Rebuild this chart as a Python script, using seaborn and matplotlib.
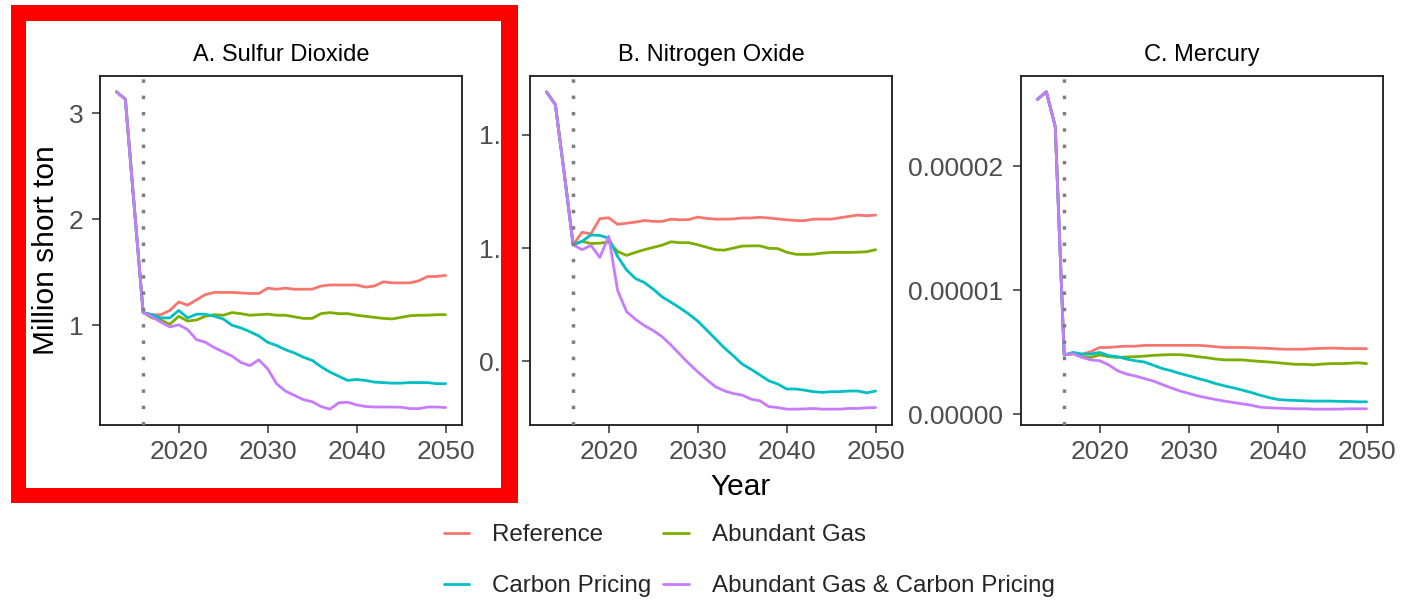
import numpy as np
import pandas as pd
import matplotlib
matplotlib.use("Agg")
import matplotlib.pyplot as plt
import seaborn as sns
from matplotlib.lines import Line2D
from matplotlib.patches import Rectangle

sns.set_theme(style="white")
plt.rcParams['font.family'] = ['Liberation Sans', 'DejaVu Sans']

years = list(range(2013, 2051))
scenarios = ["Reference", "Abundant Gas", "Carbon Pricing", "Abundant Gas & Carbon Pricing"]
colors = ["#F8766D", "#7CAE00", "#00BFC4", "#C77CFF"]
panel_titles = ["A. Sulfur Dioxide", "B. Nitrogen Oxide", "C. Mercury"]

# ---- Sulfur dioxide (million short ton) ----
so2_hist = [3.20, 3.13, 2.12]
so2_ref = [1.12, 1.10, 1.10, 1.14, 1.22, 1.19, 1.24, 1.29, 1.31, 1.31, 1.31, 1.305, 1.30, 1.30,
           1.35, 1.34, 1.35, 1.34, 1.34, 1.34, 1.37, 1.38, 1.38, 1.38, 1.38, 1.36, 1.37, 1.41,
           1.40, 1.40, 1.40, 1.42, 1.46, 1.46, 1.47]
so2_gas = [1.12, 1.07, 1.05, 1.01, 1.085, 1.04, 1.05, 1.085, 1.10, 1.095, 1.12, 1.11, 1.095, 1.10,
           1.105, 1.095, 1.095, 1.08, 1.065, 1.065, 1.11, 1.12, 1.11, 1.11, 1.095, 1.085, 1.075,
           1.065, 1.06, 1.075, 1.09, 1.095, 1.095, 1.10, 1.10]
so2_carbon = [1.12, 1.10, 1.07, 1.07, 1.14, 1.07, 1.105, 1.105, 1.085, 1.06, 1.00, 0.975, 0.94, 0.90,
              0.84, 0.81, 0.77, 0.74, 0.70, 0.67, 0.61, 0.56, 0.52, 0.48, 0.49, 0.48, 0.465, 0.46,
              0.455, 0.455, 0.46, 0.46, 0.46, 0.45, 0.45]
so2_both = [1.12, 1.08, 1.03, 0.985, 1.005, 0.96, 0.865, 0.84, 0.79, 0.75, 0.71, 0.65, 0.62, 0.675,
            0.59, 0.45, 0.38, 0.34, 0.30, 0.28, 0.235, 0.21, 0.27, 0.275, 0.25, 0.235, 0.23, 0.23,
            0.23, 0.228, 0.215, 0.215, 0.23, 0.23, 0.225]

# ---- Nitrogen oxide (million short ton) ----
nox_hist = [1.69, 1.634, 1.33]
nox_ref = [1.015, 1.07, 1.063, 1.13, 1.134, 1.105, 1.11, 1.115, 1.122, 1.118, 1.118, 1.128, 1.125,
           1.126, 1.137, 1.131, 1.128, 1.128, 1.129, 1.133, 1.133, 1.136, 1.133, 1.129, 1.125,
           1.122, 1.121, 1.128, 1.128, 1.128, 1.134, 1.14, 1.146, 1.143, 1.146]
nox_gas = [1.015, 1.03, 1.02, 1.022, 1.027, 0.985, 0.968, 0.981, 0.993, 1.003, 1.013, 1.028, 1.024,
           1.024, 1.015, 1.004, 0.993, 0.991, 1.0, 1.009, 1.01, 1.01, 0.999, 0.998, 0.982, 0.973,
           0.972, 0.973, 0.978, 0.981, 0.981, 0.981, 0.982, 0.984, 0.993]
nox_carbon = [1.015, 1.03, 1.058, 1.056, 1.044, 0.963, 0.904, 0.866, 0.848, 0.819, 0.785, 0.761,
              0.736, 0.709, 0.678, 0.639, 0.599, 0.559, 0.525, 0.488, 0.465, 0.440, 0.414, 0.40,
              0.378, 0.378, 0.373, 0.366, 0.363, 0.366, 0.366, 0.369, 0.369, 0.361, 0.369]
nox_both = [1.015, 0.993, 1.012, 0.959, 1.052, 0.813, 0.72, 0.686, 0.658, 0.636, 0.609, 0.572, 0.531,
            0.491, 0.454, 0.420, 0.388, 0.370, 0.358, 0.351, 0.333, 0.326, 0.30, 0.296, 0.289,
            0.289, 0.290, 0.292, 0.289, 0.289, 0.289, 0.292, 0.292, 0.295, 0.296]

# ---- Mercury (in 1e-5 million short ton) ----
hg_hist = [2.54, 2.60, 2.32]
hg_ref = [0.48, 0.49, 0.485, 0.506, 0.54, 0.54, 0.546, 0.55, 0.55, 0.557, 0.557, 0.557, 0.557, 0.557,
          0.557, 0.557, 0.553, 0.546, 0.54, 0.54, 0.54, 0.538, 0.535, 0.533, 0.528, 0.526, 0.526,
          0.526, 0.531, 0.533, 0.535, 0.533, 0.531, 0.531, 0.53]
hg_gas = [0.48, 0.49, 0.466, 0.46, 0.48, 0.466, 0.46, 0.463, 0.466, 0.47, 0.476, 0.48, 0.482, 0.482,
          0.476, 0.466, 0.458, 0.447, 0.44, 0.44, 0.44, 0.433, 0.428, 0.423, 0.417, 0.41, 0.404,
          0.404, 0.40, 0.406, 0.41, 0.41, 0.412, 0.417, 0.41]
hg_carbon = [0.48, 0.50, 0.487, 0.487, 0.50, 0.474, 0.466, 0.447, 0.433, 0.423, 0.398, 0.371, 0.353,
             0.331, 0.312, 0.291, 0.272, 0.25, 0.231, 0.215, 0.197, 0.178, 0.156, 0.137, 0.121,
             0.116, 0.113, 0.11, 0.108, 0.108, 0.108, 0.105, 0.105, 0.102, 0.102]
hg_both = [0.48, 0.49, 0.46, 0.44, 0.433, 0.40, 0.353, 0.326, 0.31, 0.29, 0.27, 0.242, 0.215, 0.19,
           0.17, 0.15, 0.135, 0.121, 0.108, 0.097, 0.086, 0.075, 0.059, 0.054, 0.051, 0.048, 0.046,
           0.046, 0.043, 0.043, 0.043, 0.043, 0.046, 0.046, 0.046]

hist_year = 2016

def build(hist, series, scale=1.0):
    rows = []
    for sc, vals in zip(scenarios, series):
        full = list(hist) + list(vals)
        for y, v in zip(years, full):
            rows.append({"Year": y, "Scenario": sc, "value": v * scale})
    return pd.DataFrame(rows)

data = [
    build(so2_hist, [so2_ref, so2_gas, so2_carbon, so2_both]),
    build(nox_hist, [nox_ref, nox_gas, nox_carbon, nox_both]),
    build(hg_hist, [hg_ref, hg_gas, hg_carbon, hg_both], 1e-5),
]

W, H = 1401, 601
fig = plt.figure(figsize=(W / 100, H / 100), dpi=100)
fig.patch.set_facecolor("white")

# panel boxes in pixel coords: (left, right, top, bottom)
boxes = [(100, 462, 76, 425), (530, 892, 76, 425), (1021, 1383, 76, 425)]
yticks = [[1, 2, 3], [0.5, 1.0, 1.5], [0.0, 0.00001, 0.00002]]
yfmt = ["{:.0f}", "{:.1f}", "{:.5f}"]
ypads = [6, 4.5, 7]

tick_color = "#4D4D4D"
for i, (l, r, t, b) in enumerate(boxes):
    ax = fig.add_axes([l / W, (H - b) / H, (r - l) / W, (b - t) / H])
    df = data[i]
    sns.lineplot(data=df, x="Year", y="value", hue="Scenario", hue_order=scenarios,
                 palette=colors, linewidth=2.0, legend=False, ax=ax, estimator=None)
    ax.axvline(hist_year, color="#7F7F7F", linewidth=2.5, linestyle=(0, (1, 3.7)),
               dash_capstyle="butt", zorder=3)
    vmin, vmax = df["value"].min(), df["value"].max()
    pad = (vmax - vmin) * 0.05
    ax.set_ylim(vmin - pad, vmax + pad)
    ax.set_xlim(2013 - 37 * 0.05, 2050 + 37 * 0.05)
    ax.set_xticks([2020, 2030, 2040, 2050])
    ax.set_xticklabels(["2020", "2030", "2040", "2050"])
    ax.set_yticks(yticks[i])
    ax.set_yticklabels([yfmt[i].format(v) for v in yticks[i]])
    ax.tick_params(axis="both", which="both", direction="out", length=5.8, width=1.1,
                   color="#333333", labelcolor=tick_color, labelsize=19, pad=5,
                   left=True, bottom=True)
    ax.tick_params(axis="y", pad=ypads[i])
    for s in ax.spines.values():
        s.set_color("#1a1a1a")
        s.set_linewidth(1.3)
        s.set_visible(True)
    ax.set_xlabel("")
    ax.set_ylabel("")
    ax.grid(False)
    ax.set_facecolor("white")
    ax.set_title(panel_titles[i], fontsize=17, color="black", pad=10.8)

fig.text(46 / W, (H - 250) / H, "Million short ton", rotation=90, ha="center", va="center",
         fontsize=21.5, color="black")
fig.text(741 / W, (H - 487) / H, "Year", ha="center", va="center", fontsize=21.5, color="black")

handles = [Line2D([0], [0], color=c, linewidth=2.0) for c in colors]
order = [0, 2, 1, 3]
fig.legend([handles[k] for k in order], [scenarios[k] for k in order], ncol=2,
           loc="center", bbox_to_anchor=(749 / W, (H - 560.5) / H), frameon=False,
           fontsize=17.4, handlelength=1.05, handletextpad=0.95, columnspacing=0.5,
           labelspacing=1.2, borderpad=0, borderaxespad=0)

# red highlight frame around panel A (four solid bars, pixel coordinates)
ox0, oy0, ox1, oy1 = 10.7, 4.7, 517.7, 503.3
ix0, iy0, ix1, iy1 = 26.0, 20.7, 501.0, 487.7
bars = [
    (ox0, oy0, ix0 - ox0, oy1 - oy0),
    (ix1, oy0, ox1 - ix1, oy1 - oy0),
    (ox0, oy0, ox1 - ox0, iy0 - oy0),
    (ox0, iy1, ox1 - ox0, oy1 - iy1),
]
for bx, by, bw, bh in bars:
    fig.add_artist(Rectangle((bx / W, (H - by - bh) / H), bw / W, bh / H,
                             transform=fig.transFigure, facecolor="#FF0000",
                             edgecolor="none", zorder=10))

fig.savefig("out.png", dpi=100, facecolor="white")
